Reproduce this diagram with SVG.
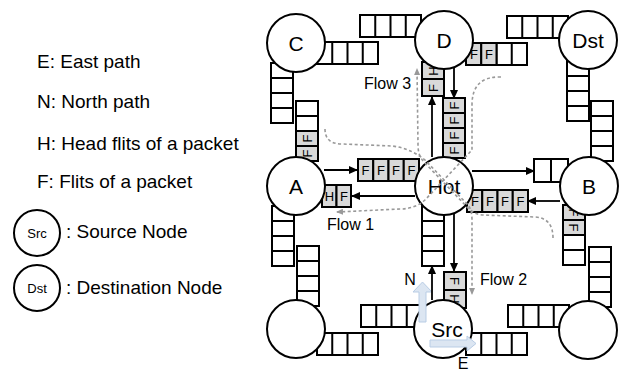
<svg xmlns="http://www.w3.org/2000/svg" xmlns:xlink="http://www.w3.org/1999/xlink" width="632" height="371" viewBox="0 0 632 371">
<style>
.w{fill:#fff;stroke:#000;stroke-width:2}
.g{fill:#d9d9d9;stroke:#000;stroke-width:2}
.n{fill:#fff;stroke:#000;stroke-width:2}
.lbl{font-family:"Liberation Sans",Arial,sans-serif;font-size:21px;text-anchor:middle;fill:#000}
.t{font-family:"Liberation Sans",Arial,sans-serif;font-size:13px;text-anchor:middle;fill:#000}
.leg{font-family:"Liberation Sans",Arial,sans-serif;font-size:19px;fill:#000}
.fl{font-family:"Liberation Sans",Arial,sans-serif;font-size:16px;fill:#000}
.ar{fill:none;stroke:#000;stroke-width:1.8}
.da{fill:none;stroke:#999;stroke-width:1.6;stroke-dasharray:3 2.5}
.blk{fill:#dce6f2;stroke:#b9cde5;stroke-width:1}
</style>
<defs>
<g id="hbuf"><rect class="w" width="61" height="22"/><path d="M15.25 0V22M30.5 0V22M45.75 0V22" stroke="#000" stroke-width="2"/></g>
<g id="vbuf"><rect class="w" width="22" height="60"/><path d="M0 15H22M0 30H22M0 45H22" stroke="#000" stroke-width="2"/></g>
<marker id="ah" markerWidth="9" markerHeight="8" refX="8" refY="4" orient="auto" markerUnits="userSpaceOnUse"><path d="M0 0L9 4L0 8Z" fill="#000"/></marker>
<marker id="dh" markerWidth="7" markerHeight="6" refX="6" refY="3" orient="auto" markerUnits="userSpaceOnUse"><path d="M0 0L7 3L0 6Z" fill="#999"/></marker>
</defs>
<rect width="632" height="371" fill="#fff"/>

<g id="legend">
<text class="leg" x="37" y="68">E: East path</text>
<text class="leg" x="37" y="108">N: North path</text>
<text class="leg" x="37" y="150">H: Head flits of a packet</text>
<text class="leg" x="37" y="188">F: Flits of a packet</text>
<circle class="n" cx="37" cy="233" r="23"/>
<text class="t" x="37" y="238">Src</text>
<text class="leg" x="66" y="238">: Source Node</text>
<circle class="n" cx="37" cy="288" r="23"/>
<text class="t" x="37" y="293">Dst</text>
<text class="leg" x="66" y="294">: Destination Node</text>
</g>

<g id="node-C">
<use href="#hbuf" x="317" y="42"/>
<use href="#vbuf" x="271" y="63"/>
<circle class="n" cx="296" cy="43" r="29"/>
<text class="lbl" x="296" y="51">C</text>
</g>

<g id="node-D">
<use href="#hbuf" x="360" y="15"/>
<use href="#hbuf" x="466" y="43"/>
<rect class="g" x="466" y="43" width="15.25" height="22"/>
<rect class="g" x="481.25" y="43" width="15.25" height="22"/>
<text class="t" x="474" y="59">F</text>
<text class="t" x="489" y="59">F</text>
<rect class="g" x="422" y="62" width="22" height="17"/>
<rect class="g" x="422" y="79" width="22" height="17"/>
<text class="t" transform="rotate(-90 433 71)" x="433" y="76">H</text>
<text class="t" transform="rotate(-90 433 88)" x="433" y="93">F</text>
<circle class="n" cx="444" cy="40" r="29"/>
<text class="lbl" x="444" y="48">D</text>
</g>

<g id="node-Dst">
<use href="#hbuf" x="507" y="16"/>
<use href="#vbuf" x="567" y="61"/>
<circle class="n" cx="588" cy="40" r="29"/>
<text class="lbl" x="588" y="48">Dst</text>
</g>

<g id="node-A">
<use href="#vbuf" x="296" y="101"/>
<rect class="g" x="296" y="131" width="22" height="15"/>
<rect class="g" x="296" y="146" width="22" height="15"/>
<text class="t" transform="rotate(-90 307 138.5)" x="307" y="143.5">F</text>
<text class="t" transform="rotate(-90 307 153.5)" x="307" y="158.5">F</text>
<use href="#vbuf" x="272" y="206"/>
<rect class="g" x="322" y="185" width="14.5" height="22"/>
<rect class="g" x="336.5" y="185" width="14.5" height="22"/>
<text class="t" x="329.5" y="201">H</text>
<text class="t" x="344" y="201">F</text>
<circle class="n" cx="296" cy="186" r="29"/>
<text class="lbl" x="296" y="194">A</text>
</g>

<g id="node-Hot">
<rect class="g" x="358" y="159" width="15.25" height="22"/>
<rect class="g" x="373.25" y="159" width="15.25" height="22"/>
<rect class="g" x="388.5" y="159" width="15.25" height="22"/>
<rect class="g" x="403.75" y="159" width="15.25" height="22"/>
<text class="t" x="365.6" y="175">F</text>
<text class="t" x="380.9" y="175">F</text>
<text class="t" x="396.1" y="175">F</text>
<text class="t" x="411.4" y="175">F</text>
<rect class="g" x="443" y="98" width="22" height="15"/>
<rect class="g" x="443" y="113" width="22" height="15"/>
<rect class="g" x="443" y="128" width="22" height="15"/>
<rect class="g" x="443" y="143" width="22" height="15"/>
<text class="t" transform="rotate(-90 454 105.5)" x="454" y="110.5">F</text>
<text class="t" transform="rotate(-90 454 120.5)" x="454" y="125.5">F</text>
<text class="t" transform="rotate(-90 454 135.5)" x="454" y="140.5">F</text>
<text class="t" transform="rotate(-90 454 150.5)" x="454" y="155.5">F</text>
<rect class="g" x="467" y="190" width="15.25" height="22"/>
<rect class="g" x="482.25" y="190" width="15.25" height="22"/>
<rect class="g" x="497.5" y="190" width="15.25" height="22"/>
<rect class="g" x="512.75" y="190" width="15.25" height="22"/>
<text class="t" x="475" y="206">F</text>
<text class="t" x="489.9" y="206">F</text>
<text class="t" x="505.1" y="206">F</text>
<text class="t" x="520.4" y="206">F</text>
<use href="#vbuf" x="422" y="206"/>
<circle class="n" cx="444" cy="186" r="29"/>
<text class="lbl" x="444" y="194">Hot</text>
</g>

<g id="node-B">
<rect class="w" x="534" y="159" width="17" height="23"/>
<rect class="w" x="551" y="159" width="17" height="23"/>
<use href="#vbuf" x="591" y="101"/>
<use href="#vbuf" x="563" y="205"/>
<rect class="g" x="563" y="205" width="22" height="15"/>
<rect class="g" x="563" y="220" width="22" height="15"/>
<text class="t" transform="rotate(90 574 212.5)" x="574" y="217.5">F</text>
<text class="t" transform="rotate(90 574 227.5)" x="574" y="232.5">F</text>
<circle class="n" cx="589" cy="186" r="29"/>
<text class="lbl" x="589" y="194">B</text>
</g>

<g id="node-BL">
<use href="#vbuf" x="297" y="246"/>
<use href="#hbuf" x="317" y="333"/>
<circle class="n" cx="296" cy="329" r="29"/>
</g>

<g id="node-Src">
<use href="#hbuf" x="361" y="305"/>
<use href="#hbuf" x="466" y="333"/>
<rect class="g" x="444" y="272" width="22" height="18"/>
<rect class="g" x="444" y="290" width="22" height="18"/>
<text class="t" transform="rotate(90 455 281)" x="455" y="286">F</text>
<text class="t" transform="rotate(90 455 299)" x="455" y="304">H</text>
<circle class="n" cx="443" cy="329" r="29"/>
<text class="lbl" x="447" y="337">Src</text>
<path class="blk" d="M419 322V292H413L422.5 282L432 292H426V322Z"/>
<path class="blk" d="M430 340H467V336L476 343.5L467 351V347H430Z"/>
<text class="fl" x="410" y="285" text-anchor="middle">N</text>
<text class="fl" x="463" y="369" text-anchor="middle" font-size="14">E</text>
</g>

<g id="node-BR">
<use href="#hbuf" x="508" y="305"/>
<use href="#vbuf" x="589" y="247"/>
<circle class="n" cx="588" cy="330" r="29"/>
</g>

<g id="connectors">
<path class="ar" d="M324 170H357" marker-end="url(#ah)"/>
<path class="ar" d="M415 196H352" marker-end="url(#ah)"/>
<path class="ar" d="M472 171H534" marker-end="url(#ah)"/>
<path class="ar" d="M560 201H528" marker-end="url(#ah)"/>
<path class="ar" d="M432 157V97" marker-end="url(#ah)"/>
<path class="ar" d="M454 68V98" marker-end="url(#ah)"/>
<path class="ar" d="M432 300V266" marker-end="url(#ah)"/>
<path class="ar" d="M454 214V271" marker-end="url(#ah)"/>
<path class="da" d="M501 77Q472 76 472 105L472 150L425 200Q415 209 400 209L337 212" marker-end="url(#dh)"/>
<path class="da" d="M325 129Q325 144 342 144L392 146Q410 148 425 160L468 205Q472 210 472 220L472 294" marker-end="url(#dh)"/>
<path class="da" d="M553 238Q553 218 535 217L482 215Q474 214 468 208L424 162Q418 156 418 145L417 69" marker-end="url(#dh)"/>
<text class="fl" x="364" y="89">Flow 3</text>
<text class="fl" x="327" y="230">Flow 1</text>
<text class="fl" x="480" y="285">Flow 2</text>
</g>
</svg>
